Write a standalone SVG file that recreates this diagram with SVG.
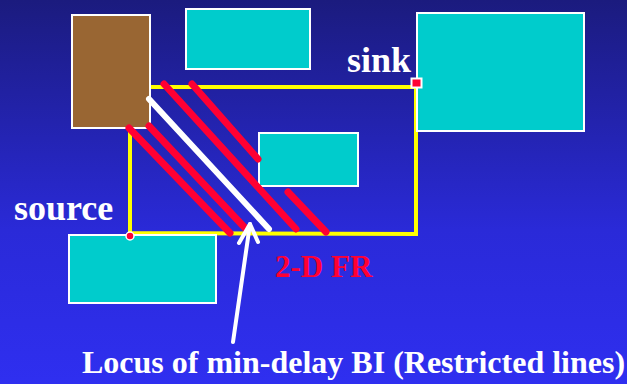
<svg xmlns="http://www.w3.org/2000/svg" width="627" height="384" viewBox="0 0 627 384">
<defs>
<linearGradient id="bg" x1="0" y1="0" x2="0" y2="1">
<stop offset="0" stop-color="#1B1B7E"/>
<stop offset="0.6" stop-color="#2A2AD8"/>
<stop offset="1" stop-color="#2F2FF0"/>
</linearGradient>
<style>
.blk{fill:#00CCCC;stroke:#FFFFFF;stroke-width:2}
.brn{fill:#996633;stroke:#FFFFFF;stroke-width:2}
.yl{fill:none;stroke:#FFFF00;stroke-width:4;stroke-linecap:square}
.rd{stroke:#FF0033;stroke-width:7;stroke-linecap:round}
.wh{stroke:#FFFFFF;stroke-width:6;stroke-linecap:round}
.lbl{font-family:"Liberation Serif",serif;font-weight:bold;fill:#FFFFFF}
</style>
</defs>
<rect x="0" y="0" width="627" height="384" fill="url(#bg)"/>
<g id="fr-box">
<polyline class="yl" points="130,133 130,233 416,234 416,87 148,87"/>
</g>
<g id="block-top"><rect class="blk" x="186" y="9" width="124" height="60"/></g>
<g id="block-mid"><rect class="blk" x="259" y="133" width="99" height="53"/></g>
<g id="block-right"><rect class="blk" x="417" y="13" width="167" height="118"/></g>
<g id="block-bl"><rect class="blk" x="69" y="235" width="147" height="68"/></g>
<g id="obstacle"><rect class="brn" x="72" y="15" width="78" height="113"/></g>
<g id="connectors">
<line class="rd" x1="129" y1="128" x2="230" y2="233"/>
<line class="rd" x1="149" y1="126" x2="246" y2="229"/>
<line class="rd" x1="164" y1="84" x2="296" y2="229"/>
<line class="rd" x1="192" y1="84" x2="258" y2="159"/>
<line class="rd" x1="288" y1="192" x2="326" y2="232"/>
<line class="wh" x1="149" y1="99" x2="269" y2="229"/>
<g fill="none" stroke="#FFFFFF" stroke-width="4" stroke-linecap="round" stroke-linejoin="round">
<line x1="233" y1="342" x2="250" y2="224"/>
<polyline points="239,243 250,224 258,242"/>
</g>
</g>
<g id="source">
<circle cx="130" cy="236" r="4" fill="#FF0033" stroke="#FFFFFF" stroke-width="1.5"/>
<text class="lbl" x="14" y="220" font-size="36">source</text>
</g>
<g id="sink">
<rect x="411.5" y="78.5" width="10" height="9" fill="#FF0033" stroke="#FFFFFF" stroke-width="2"/>
<text class="lbl" x="347" y="72" font-size="36">sink</text>
</g>
<text x="275" y="277" font-family="'Liberation Serif',serif" font-weight="bold" font-size="31" fill="#FF0033">2-D FR</text>
<text class="lbl" x="82" y="373" font-size="32">Locus of min-delay BI (Restricted lines)</text>
</svg>
